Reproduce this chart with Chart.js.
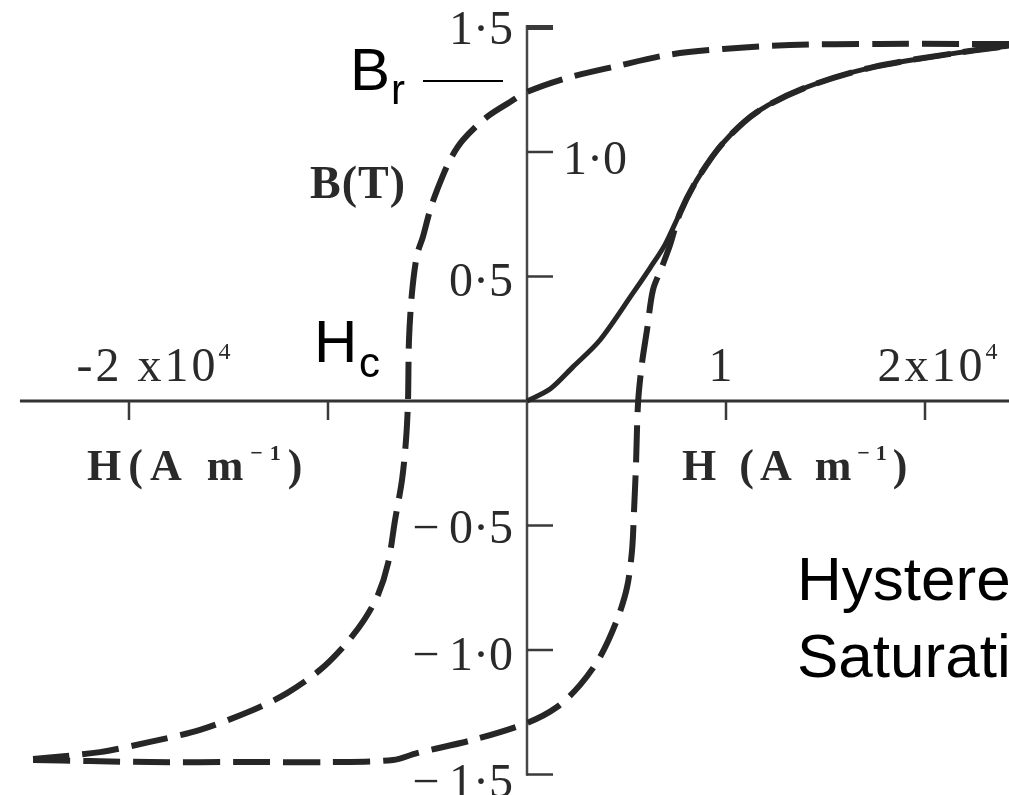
<!DOCTYPE html>
<html>
<head>
<meta charset="utf-8">
<title>B–H hysteresis loop</title>
<script src="https://cdn.jsdelivr.net/npm/chart.js@4/dist/chart.umd.min.js"></script>
<style>
  html, body { margin: 0; padding: 0; background: #ffffff; }
  #wrap { position: relative; width: 1009px; height: 795px; }
</style>
</head>
<body>
<div id="wrap"><canvas id="c"></canvas></div>
<script>
// Field strength H in units of 10^4 A/m, flux density B in tesla.

// Descending branch of the loop (from positive saturation to negative saturation)
const upperH = [2.422, 2.176, 1.774, 1.322, 0.985, 0.709, 0.452, 0.201, 0, -0.085, -0.201, -0.322, -0.387, -0.452, -0.487, -0.523, -0.553, -0.578, -0.593, -0.598, -0.608, -0.628, -0.663, -0.698, -0.749, -0.819, -0.915, -1.040, -1.206, -1.377, -1.643, -1.894, -2.146, -2.482];
const upperB = [1.434, 1.434, 1.434, 1.430, 1.414, 1.390, 1.345, 1.297, 1.241, 1.201, 1.141, 1.048, 0.968, 0.847, 0.767, 0.659, 0.586, 0.434, 0.245, 0, -0.157, -0.317, -0.478, -0.651, -0.779, -0.880, -0.980, -1.080, -1.173, -1.241, -1.321, -1.369, -1.410, -1.438];

// Ascending branch of the loop (from negative saturation back to positive saturation)
const lowerH = [-2.482, -2.196, -1.894, -1.392, -0.990, -0.673, -0.553, -0.271, 0, 0.151, 0.266, 0.367, 0.452, 0.503, 0.528, 0.538, 0.548, 0.558, 0.578, 0.603, 0.633, 0.678, 0.719, 0.769, 0.854, 0.985, 1.156, 1.407, 1.739, 2.161, 2.422];
const lowerB = [-1.442, -1.446, -1.450, -1.450, -1.450, -1.442, -1.414, -1.361, -1.293, -1.229, -1.141, -1.028, -0.880, -0.747, -0.598, -0.438, -0.249, -0.008, 0.153, 0.285, 0.446, 0.538, 0.627, 0.755, 0.888, 1.036, 1.161, 1.261, 1.341, 1.398, 1.426];

// Initial magnetisation curve from the demagnetised state
const initH = [0, 0.116, 0.231, 0.367, 0.533, 0.618, 0.693, 0.769, 0.854, 0.985, 1.156, 1.407, 1.739, 2.161, 2.422];
const initB = [0, 0.048, 0.137, 0.245, 0.434, 0.534, 0.627, 0.755, 0.888, 1.036, 1.161, 1.261, 1.341, 1.398, 1.426];

// Axis ticks
const bTicks = [1.5, 1.0, 0.5, -0.5, -1.0, -1.5];
const bTickLabels = ['1·5', '1·0', '0·5', '−\u20090·5', '−\u20091·0', '−\u20091·5'];
const hTicks = [-2, -1, 1, 2];
const hTickLabels = ['-2 x10⁴', '', '1', '2x10⁴'];

const toPoints = (xs, ys) => xs.map((x, i) => ({ x: x, y: ys[i] }));

const INK = '#2a2a2a';
const SERIF = '"Liberation Serif", "DejaVu Serif", serif';
const SANS = '"Liberation Sans", Arial, sans-serif';

const SUP = { '⁰': '0', '¹': '1', '²': '2', '³': '3', '⁴': '4', '⁵': '5', '⁶': '6', '⁷': '7', '⁸': '8', '⁹': '9', '⁻': '−' };

// Draws a string, rendering superscript characters smaller and raised.
function drawRich(ctx, str, x, y, o) {
  const size = o.size, weight = o.bold ? 'bold ' : '';
  const family = o.family || SERIF;
  const spacing = o.spacing || 0;
  const segs = [];
  for (const ch of str) {
    const sup = SUP[ch] !== undefined;
    const last = segs[segs.length - 1];
    const t = sup ? SUP[ch] : ch;
    if (last && last.sup === sup) last.t += t; else segs.push({ t: t, sup: sup });
  }
  ctx.save();
  ctx.letterSpacing = spacing + 'px';
  ctx.textBaseline = 'alphabetic';
  ctx.textAlign = 'left';
  let total = 0;
  segs.forEach(s => {
    ctx.font = weight + (s.sup ? Math.round(size * 0.5) : size) + 'px ' + family;
    s.w = ctx.measureText(s.t).width;
    total += s.w;
  });
  let cx = x;
  if (o.align === 'center') cx = x - total / 2;
  else if (o.align === 'right') cx = x - total;
  ctx.fillStyle = o.color || INK;
  segs.forEach(s => {
    ctx.font = weight + (s.sup ? Math.round(size * 0.5) : size) + 'px ' + family;
    ctx.fillText(s.t, cx, s.sup ? y - size * 0.45 : y);
    cx += s.w;
  });
  ctx.restore();
}

// Axes crossing at the origin, with ticks and labels
const crossAxes = {
  id: 'crossAxes',
  beforeDatasetsDraw(chart, args, opts) {
    const ctx = chart.ctx;
    const xs = chart.scales.x, ys = chart.scales.y;
    const x0 = xs.getPixelForValue(0), y0 = ys.getPixelForValue(0);
    ctx.save();
    ctx.lineCap = 'butt';
    // horizontal H axis
    ctx.strokeStyle = '#333333';
    ctx.lineWidth = 3;
    ctx.beginPath();
    ctx.moveTo(xs.getPixelForValue(opts.hStart), y0);
    ctx.lineTo(chart.chartArea.right, y0);
    ctx.stroke();
    // vertical B axis
    ctx.strokeStyle = '#474747';
    ctx.lineWidth = 2.5;
    ctx.beginPath();
    ctx.moveTo(x0, ys.getPixelForValue(opts.bTop));
    ctx.lineTo(x0, ys.getPixelForValue(opts.bBottom));
    ctx.stroke();
    // B ticks, pointing right
    bTicks.forEach((v, i) => {
      const py = ys.getPixelForValue(v);
      ctx.strokeStyle = '#3a3a3a';
      ctx.lineWidth = i === 0 ? 5 : 2.5;
      ctx.beginPath();
      ctx.moveTo(x0, py);
      ctx.lineTo(x0 + opts.bTickLen, py);
      ctx.stroke();
    });
    // H ticks, pointing down
    hTicks.forEach(v => {
      const px = xs.getPixelForValue(v);
      ctx.strokeStyle = '#3a3a3a';
      ctx.lineWidth = 2.5;
      ctx.beginPath();
      ctx.moveTo(px, y0);
      ctx.lineTo(px, y0 + opts.hTickLen);
      ctx.stroke();
    });
    ctx.restore();

    // B tick labels
    bTicks.forEach((v, i) => {
      const py = ys.getPixelForValue(v) + opts.bLabelDrop[i];
      if (opts.bRightSide.includes(v)) {
        drawRich(ctx, bTickLabels[i], x0 + 36, py, { size: 48, align: 'left' });
      } else {
        drawRich(ctx, bTickLabels[i], x0 - 14, py, { size: 48, align: 'right' });
      }
    });
    // H tick labels, above the axis
    hTicks.forEach((v, i) => {
      if (!hTickLabels[i]) return;
      const px = xs.getPixelForValue(v) + opts.hLabelShift[i];
      drawRich(ctx, hTickLabels[i], px, y0 - 20, { size: 48, align: 'center', spacing: 3 });
    });

    // axis titles
    drawRich(ctx, 'H(A m⁻¹)', 87, 480, { size: 44, bold: true, spacing: 7 });
    drawRich(ctx, 'H (A m⁻¹)', 682, 480, { size: 44, bold: true, spacing: 6 });
    drawRich(ctx, 'B(T)', 310, 198, { size: 46, bold: true, spacing: 1 });
  },
  afterDraw(chart) {
    const ctx = chart.ctx;
    // remanence and coercivity markers
    drawRich(ctx, 'B', 350, 90, { size: 60, family: SANS, color: '#000' });
    drawRich(ctx, 'r', 391, 104, { size: 42, family: SANS, color: '#000' });
    ctx.save();
    ctx.strokeStyle = '#000';
    ctx.lineWidth = 2;
    ctx.beginPath();
    ctx.moveTo(423, 81);
    ctx.lineTo(503, 81);
    ctx.stroke();
    ctx.restore();
    drawRich(ctx, 'H', 314, 362, { size: 60, family: SANS, color: '#000' });
    drawRich(ctx, 'c', 359, 377, { size: 42, family: SANS, color: '#000' });
    // captions
    drawRich(ctx, 'Hysteresis', 797, 600, { size: 62, family: SANS, color: '#000' });
    drawRich(ctx, 'Saturation', 797, 677, { size: 62, family: SANS, color: '#000' });
  }
};

const lineStyle = {
  showLine: true,
  pointRadius: 0,
  pointHoverRadius: 0,
  borderColor: '#262626',
  tension: 0.3,
  fill: false
};

new Chart(document.getElementById('c'), {
  type: 'scatter',
  data: {
    datasets: [
      Object.assign({ label: 'descending', data: toPoints(upperH, upperB), borderWidth: 6, borderDash: [37, 13] }, lineStyle),
      Object.assign({ label: 'ascending', data: toPoints(lowerH, lowerB), borderWidth: 6, borderDash: [37, 13] }, lineStyle),
      Object.assign({ label: 'initial', data: toPoints(initH, initB), borderWidth: 5 }, lineStyle)
    ]
  },
  options: {
    responsive: true,
    maintainAspectRatio: false,
    animation: false,
    devicePixelRatio: 1,
    layout: { padding: 0 },
    events: [],
    scales: {
      x: { type: 'linear', display: false, min: -2.6482, max: 2.4221 },
      y: { type: 'linear', display: false, min: -1.5823, max: 1.6104 }
    },
    plugins: {
      legend: { display: false },
      tooltip: { enabled: false },
      crossAxes: {
        hStart: -2.548,
        bTop: 1.51,
        bBottom: -1.505,
        bTickLen: 26,
        hTickLen: 19,
        bRightSide: [1.0],
        bLabelDrop: [17, 22, 20, 17, 20, 22],
        hLabelShift: [26, 0, -4, 14]
      }
    }
  },
  plugins: [crossAxes]
});
</script>
</body>
</html>
